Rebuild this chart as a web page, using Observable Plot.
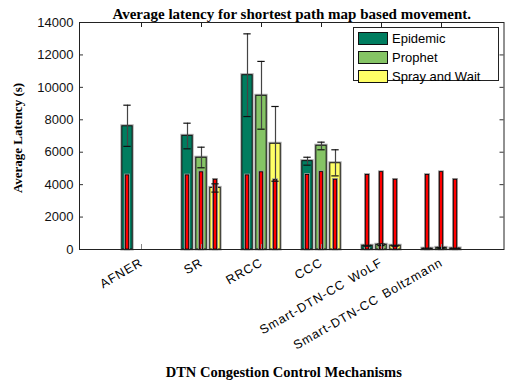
<!DOCTYPE html>
<html><head><meta charset="utf-8">
<script src="https://cdn.jsdelivr.net/npm/d3@7"></script>
<script src="https://cdn.jsdelivr.net/npm/@observablehq/plot@0.6"></script>
<style>
body{margin:0;background:#fff;}
#wrap{position:relative;width:505px;height:381px;overflow:hidden;}
#legend{position:absolute;left:353px;top:27px;width:146px;height:54px;border:1px solid #222;background:#fff;font-family:"Liberation Sans",Arial,sans-serif;font-size:13px;box-sizing:border-box;}
.item{position:absolute;left:4px;height:13px;display:flex;align-items:center;}
.sw{width:30px;height:13px;border:1px solid #111;box-sizing:border-box;margin-right:4px;}
.xlab text{letter-spacing:0.9px;word-spacing:2px;}
</style></head>
<body><div id="wrap"></div>
<script>
const categories = ["AFNER","SR","RRCC","CCC","Smart-DTN-CC WoLF","Smart-DTN-CC Boltzmann"];
const seriesNames = ["Epidemic","Prophet","Spray and Wait"];
const seriesColors = ["#007d5f","#85c465","#ffff66"];
const yTicks = [0,2000,4000,6000,8000,10000,12000,14000];

const epidemic   = [7600, 7010, 10750, 5450, 230, 50];
const epidemicLo = [6360, 6210, 8200, 5200, 200, 20];
const epidemicHi = [8900, 7790, 13300, 5690, 260, 80];
const epidemicRed = [4570, 4570, 4570, 4600, 4600, 4600];

const prophet   = [null, 5660, 9480, 6400, 290, 100];
const prophetLo = [null, 5040, 7420, 6150, 240, 70];
const prophetHi = [null, 6310, 11600, 6620, 340, 130];
const prophetRed = [null, 4760, 4760, 4770, 4770, 4770];

const spray   = [null, 3800, 6520, 5320, 230, 60];
const sprayLo = [null, 3540, 4210, 4540, 200, 40];
const sprayHi = [null, 4050, 8820, 6150, 260, 80];
const sprayRed = [null, 4300, 4280, 4300, 4300, 4300];

const W = 505, H = 381, mL = 79, mR = 1.5, mT = 22, mB = 132;
const plotW = W - mL - mR, plotH = H - mT - mB;
const bw = plotW / 7;

function rows(v, lo, hi, red){
  return categories.map((c,i)=>({cat:c, v:v[i], lo:lo[i], hi:hi[i], red:red[i]})).filter(d=>d.v!=null);
}
const series = [
  {rows: rows(epidemic, epidemicLo, epidemicHi, epidemicRed), color: seriesColors[0], o: -14},
  {rows: rows(prophet, prophetLo, prophetHi, prophetRed), color: seriesColors[1], o: 0},
  {rows: rows(spray, sprayLo, sprayHi, sprayRed), color: seriesColors[2], o: 14}
];
const barIn = (bw - 11)/2, redIn = (bw - 4)/2, capIn = (bw - 8)/2;

const marks = [];
for (const s of series) {
  marks.push(Plot.barY(s.rows, {x:"cat", y:"v", fill:s.color, stroke:"#aaa", strokeWidth:3, insetLeft:barIn, insetRight:barIn, dx:s.o}));
  marks.push(Plot.barY(s.rows, {x:"cat", y:"v", fill:s.color, stroke:"#111", strokeWidth:1, insetLeft:barIn, insetRight:barIn, dx:s.o}));
}
for (const s of series) {
  marks.push(Plot.barY(s.rows, {x:"cat", y:"red", fill:"red", stroke:"#999", strokeWidth:2.5, insetLeft:redIn, insetRight:redIn, dx:s.o}));
  marks.push(Plot.barY(s.rows, {x:"cat", y:"red", fill:"red", stroke:"#000", strokeWidth:0.8, insetLeft:redIn, insetRight:redIn, dx:s.o}));
}
for (const s of series) {
  marks.push(Plot.ruleX(s.rows, {x:"cat", y1:"lo", y2:"hi", dx:s.o, stroke:"#444", strokeWidth:1.2}));
  marks.push(Plot.tickY(s.rows, {x:"cat", y:"hi", dx:s.o, insetLeft:capIn, insetRight:capIn, stroke:"#111", strokeWidth:1.2}));
  marks.push(Plot.tickY(s.rows, {x:"cat", y:"lo", dx:s.o, insetLeft:capIn, insetRight:capIn, stroke:"#111", strokeWidth:1.2}));
}
// inward ticks
marks.push(Plot.tickY(yTicks, {y:d=>d, insetRight: plotW - 4, stroke:"#333"}));
marks.push(Plot.tickY(yTicks, {y:d=>d, insetLeft: plotW - 4, stroke:"#333"}));
marks.push(Plot.tickX(categories, {x:d=>d, insetBottom: plotH - 5, stroke:"#222"}));
marks.push(Plot.tickX(categories, {x:d=>d, insetTop: plotH - 5, stroke:"#888"}));
marks.push(Plot.frame({stroke:"#222"}));
marks.push(Plot.axisY(yTicks, {tickSize:0, tickPadding:6, tickFormat:d=>String(d), fontSize:13, fill:"#111", fontFamily:"Liberation Sans, Arial, sans-serif"}));
marks.push(Plot.text(categories, {x:d=>d, text:d=>d, frameAnchor:"bottom", rotate:-30, textAnchor:"end", lineAnchor:"middle", dy:12, dx:0, fontSize:12.5, fill:"#000", className:"xlab", fontFamily:"Liberation Sans, Arial, sans-serif"}));
marks.push(Plot.text(["Average latency for shortest path map based movement."], {text:d=>d, frameAnchor:"top", textAnchor:"middle", lineAnchor:"bottom", dy:-4, fontSize:15, fontWeight:"bold", fontFamily:"Liberation Serif, Times New Roman, serif", fill:"#000"}));
marks.push(Plot.text(["Average Latency (s)"], {text:d=>d, frameAnchor:"left", textAnchor:"middle", rotate:-90, dx:-62, dy:2, fontSize:13, fontWeight:"bold", fontFamily:"Liberation Serif, Times New Roman, serif", fill:"#000"}));
marks.push(Plot.text(["DTN Congestion Control Mechanisms"], {text:d=>d, frameAnchor:"bottom", textAnchor:"middle", lineAnchor:"middle", dy:123, dx:-8, fontSize:14.5, fontWeight:"bold", fontFamily:"Liberation Serif, Times New Roman, serif", fill:"#000"}));

const chart = Plot.plot({
  width: W, height: H,
  marginLeft: mL, marginRight: mR, marginTop: mT, marginBottom: mB,
  style: {background:"#fff", overflow:"visible"},
  x: {domain: categories, paddingInner: 0, paddingOuter: 0.5, axis: null},
  y: {domain: [0, 14000], axis: null},
  marks
});
const wrap = document.getElementById("wrap");
wrap.appendChild(chart);
const legend = document.createElement("div");
legend.id = "legend";
seriesNames.forEach((n,i)=>{
  const it = document.createElement("div");
  it.className = "item";
  it.style.top = (4 + i*19) + "px";
  it.innerHTML = `<div class="sw" style="background:${seriesColors[i]}"></div><span>${n}</span>`;
  legend.appendChild(it);
});
wrap.appendChild(legend);
</script></body></html>
